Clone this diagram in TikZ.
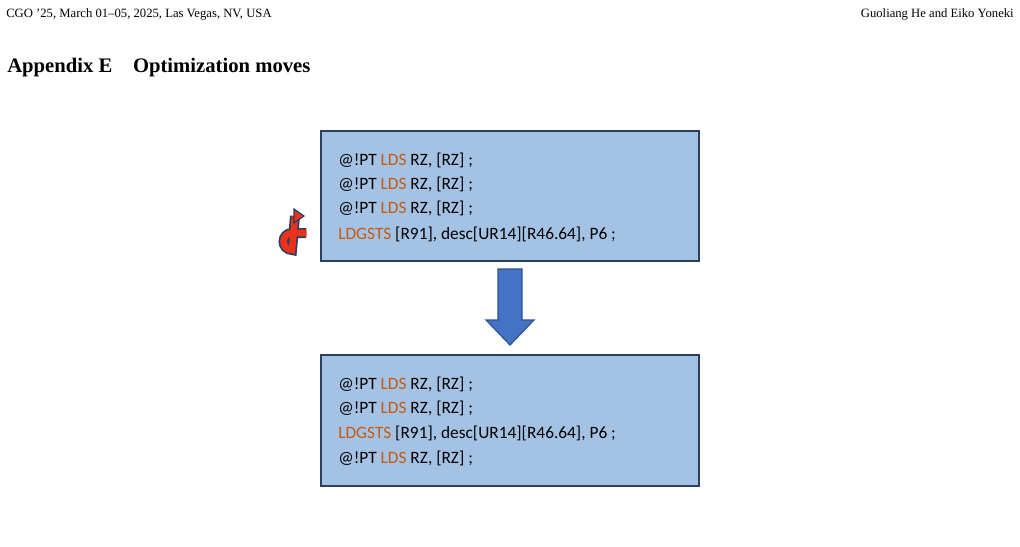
\documentclass[tikz,border=0pt]{standalone}
\usepackage{fontspec}
\setmainfont{Liberation Serif}
\newfontfamily\carlitofont{Carlito}
\begin{document}
\definecolor{boxfill}{HTML}{A4C2E4}
\definecolor{boxline}{HTML}{2B3F5F}
\definecolor{orn}{HTML}{C55A11}
\definecolor{arrf}{HTML}{4472C4}
\definecolor{arrl}{HTML}{2F528F}
\definecolor{redf}{HTML}{E8321E}
\begin{tikzpicture}[x=0.75pt,y=-0.75pt,
  box/.style={draw=boxline,line width=1.2pt,fill=boxfill},
  code/.style={anchor=west,inner sep=0pt,font=\carlitofont\fontsize{13}{15}\selectfont},
  hdr/.style={anchor=base west,inner sep=0pt,font=\fontsize{9.5}{11}\selectfont}]
\useasboundingbox (0,0) rectangle (1020,546);
\node[hdr] (h1) at (6,17) {CGO '25, March 01--05, 2025, Las Vegas, NV, USA};
\node[hdr,anchor=base east] (h2) at (1014,17) {Guoliang He and Eiko Yoneki};
\node[anchor=base west,inner sep=0pt,font=\bfseries\fontsize{15.5}{18}\selectfont] (t) at (7,72) {Appendix E\hspace{1em}Optimization moves};
\draw[box] (321,131) rectangle (699,261);
\draw[box] (321,355) rectangle (699,486);
\def\LDS{@!PT \textcolor{orn}{LDS} RZ, [RZ] ;}
\def\LDG{\textcolor{orn}{LDGSTS} [R91], desc[UR14][R46.64], P6 ;}
\node[code] (a1) at (338,160) {\LDS};
\node[code] (a2) at (338,184) {\LDS};
\node[code] (a3) at (338,208) {\LDS};
\node[code] (a4) at (338,234) {\LDG};
\node[code] (c1) at (338,384) {\LDS};
\node[code] (c2) at (338,408) {\LDS};
\node[code] (c3) at (338,433) {\LDG};
\node[code] (c4) at (338,458) {\LDS};
\draw[fill=arrf,draw=arrl,line width=0.9pt] (498,269) -- (522,269) -- (522,320) -- (534,320) -- (510,345) -- (486,320) -- (498,320) -- cycle;
% red u-turn arrow
\draw[line width=7.5pt,boxline] (306,233) -- (292,233) arc[start angle=270,end angle=90,radius=8.5] -- (295,216);
\draw[line width=5pt,redf] (306.5,233) -- (292,233) arc[start angle=270,end angle=90,radius=8.5] -- (295,216);
\draw[fill=redf,draw=boxline,line width=0.9pt] (294,209) -- (304,216) -- (294,223) -- cycle;
\end{tikzpicture}
\end{document}
